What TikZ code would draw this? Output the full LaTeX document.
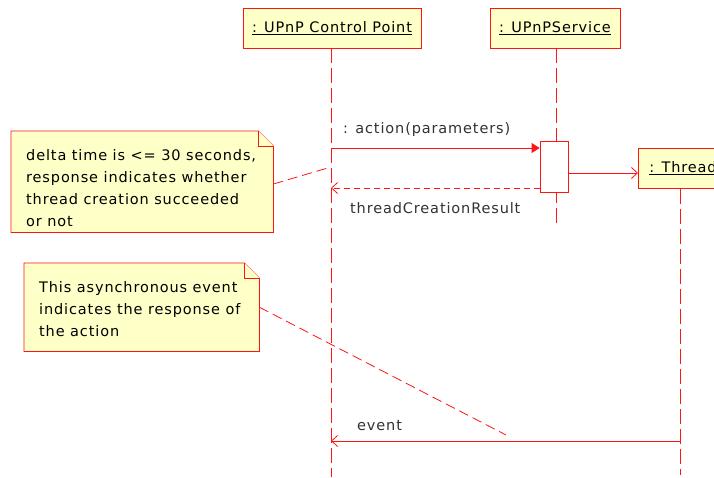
\documentclass[tikz,border=0pt]{standalone}
\usepackage{fontspec}
\setmainfont[LetterSpace=6]{DejaVu Sans}
\usetikzlibrary{arrows.meta}
\pgfdeclarelayer{background}
\pgfsetlayers{background,main}
\definecolor{umlred}{RGB}{255,20,20}
\definecolor{umlfill}{RGB}{255,255,200}
\definecolor{labelgray}{RGB}{50,50,50}
\tikzstyle{object} = [draw=umlred, fill=umlfill, line width=0.8pt,
  minimum height=40pt, inner sep=0pt, text=black]
\tikzstyle{activation} = [draw=umlred, fill=white, line width=0.8pt,
  minimum width=28pt, minimum height=51pt, inner sep=0pt]
\tikzstyle{lifeline} = [draw=umlred, line width=0.8pt,
  dash pattern=on 15pt off 5pt]
\tikzstyle{call} = [draw=umlred, line width=0.8pt,
  -{Triangle[length=8pt,width=10pt]}]
\tikzstyle{signal} = [draw=umlred, line width=0.8pt,
  -{Straight Barb[length=6pt,width=11pt]}]
\tikzstyle{reply} = [signal, dash pattern=on 6pt off 4pt]
\tikzstyle{noteline} = [draw=umlred, line width=0.8pt,
  dash pattern=on 10pt off 5pt]
\tikzstyle{msglabel} = [text=labelgray, inner sep=0pt]
\tikzstyle{notetext} = [align=left, inner sep=0pt, text=black]
\newcommand{\umlnote}[6]{%
  % Empty node that carries the note's outline
  \node (#1) [minimum width=#4, minimum height=#5, inner sep=0pt,
    anchor=north west] at (#2,#3) {};
  \node (#1text) [notetext, anchor=north west]
    at ([xshift=15pt,yshift=-18pt]#1.north west) {#6};
  \begin{pgfonlayer}{background}
    % Body with the dog-eared corner
    \path[fill=umlfill, draw=umlred, line width=0.8pt]
      (#1.north west) -- ([xshift=-15pt]#1.north east)
      -- ([yshift=-15pt]#1.north east) -- (#1.south east)
      -- (#1.south west) -- cycle;
    \path[fill=umlfill, draw=umlred, line width=0.8pt]
      ([xshift=-15pt]#1.north east) -- ([xshift=-15pt,yshift=-15pt]#1.north east)
      -- ([yshift=-15pt]#1.north east);
  \end{pgfonlayer}}

\begin{document}
\begin{tikzpicture}[x=1pt, y=-1pt, font=\fontsize{14.5}{22}\selectfont]
\useasboundingbox (0,0) rectangle (714,477);

% Objects and their lifelines
\node (cp) [object, minimum width=178pt] at (332,28)
  {\underline{: UPnP Control Point}};
\node (svc) [object, minimum width=130pt] at (555,28)
  {\underline{: UPnPService}};
\coordinate (cpend) at (331,477);
\coordinate (svcend) at (556,225);
\path [lifeline] (cp.south -| cpend) -- (cpend);
\path [lifeline] (svc.south -| svcend) -- (svcend);

\node (act) [activation] at (554,167) {};

\node (thread) [object, minimum width=100pt, anchor=north west,
  inner xsep=11pt, text width=78pt, align=left] at (638,148)
  {\underline{: Thread}};
\coordinate (thend) at (680,475);
\path [lifeline] (thread.south -| thend) -- (thend);

% Notes
\umlnote{n1}{11}{131}{262pt}{101pt}{delta time is <= 30 seconds,\\
  response indicates whether\\thread creation succeeded\\or not}
\umlnote{n2}{24}{263}{235pt}{88pt}{This asynchronous event\\
  indicates the response of\\the action}

% Messages between lifelines
\coordinate (callstart) at (cpend |- 0,148);
\coordinate (replyend) at (cpend |- 0,188);
\coordinate (eventend) at (cpend |- 0,441);
\coordinate (eventstart) at (thend |- 0,441);
\path [call] (callstart) -- (callstart -| act.west);
\node [msglabel, anchor=base west] at ([xshift=12pt,yshift=15pt]callstart)
  {: action(parameters)};
\path [reply] (replyend -| act.west) -- (replyend);
\node [msglabel, anchor=base west] at ([xshift=19pt,yshift=-25pt]replyend)
  {threadCreationResult};
\path [signal] (act.east |- 0,173) -- (thread.west |- 0,173);
\path [signal] (eventstart) -- (eventend);
\node [msglabel, anchor=base west] at ([xshift=26pt,yshift=11pt]eventend)
  {event};

% Notes hooked to the lifelines
\coordinate (n1hook) at (cpend |- 0,167);
\coordinate (n2hook) at (506,435);
\path [noteline] (n1.east |- 0,184) -- (n1hook);
\path [noteline] (n2.east) -- (n2hook);
\end{tikzpicture}
\end{document}
